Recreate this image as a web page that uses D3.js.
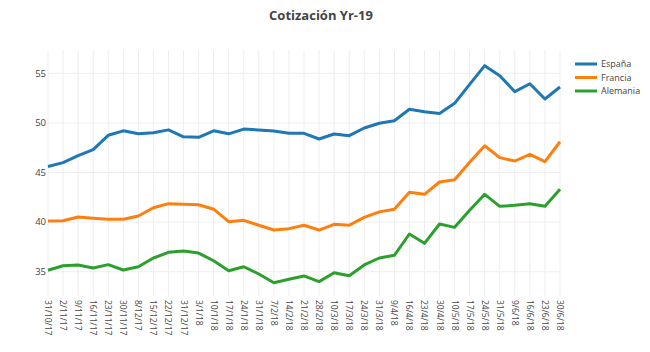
<!DOCTYPE html>
<html>
<head>
<meta charset="utf-8">
<script src="https://cdn.jsdelivr.net/npm/d3@7"></script>
<style>
  body { margin: 0; background: #fff; }
  text { font-family: "Open Sans", sans-serif; fill: #444; }
</style>
</head>
<body>
<div id="chart"></div>
<script>
const dates = ["31/10/17","2/11/17","9/11/17","16/11/17","23/11/17","30/11/17","8/12/17","15/12/17",
  "22/12/17","31/12/17","3/1/18","10/1/18","17/1/18","24/1/18","31/1/18","7/2/18","14/2/18",
  "21/2/18","28/2/18","10/3/18","17/3/18","24/3/18","31/3/18","9/4/18","16/4/18","23/4/18",
  "30/4/18","10/5/18","17/5/18","24/5/18","31/5/18","9/6/18","16/6/18","23/6/18","30/6/18"];

const espana = [45.6, 46.0, 46.7, 47.3, 48.75, 49.2, 48.9, 49.0, 49.3, 48.6, 48.55, 49.2, 48.9,
  49.38, 49.28, 49.18, 48.95, 48.95, 48.38, 48.88, 48.71, 49.49, 49.96, 50.22, 51.37, 51.13,
  50.96, 51.97, 53.89, 55.77, 54.76, 53.15, 53.95, 52.41, 53.62];
const francia = [40.11, 40.14, 40.51, 40.38, 40.28, 40.28, 40.61, 41.45, 41.86, 41.79, 41.75,
  41.3, 40.04, 40.18, 39.68, 39.2, 39.34, 39.68, 39.2, 39.78, 39.68, 40.48, 41.03, 41.29, 43.0,
  42.8, 44.04, 44.27, 46.03, 47.7, 46.5, 46.16, 46.83, 46.09, 48.1];
const alemania = [35.14, 35.6, 35.68, 35.37, 35.71, 35.17, 35.5, 36.38, 36.95, 37.09, 36.88,
  36.1, 35.1, 35.5, 34.77, 33.89, 34.23, 34.57, 34.0, 34.9, 34.6, 35.68, 36.38, 36.65, 38.8,
  37.86, 39.81, 39.47, 41.19, 42.8, 41.59, 41.69, 41.86, 41.59, 43.3];

const seriesNames = ["España", "Francia", "Alemania"];
const seriesColors = ["#1f77b4", "#ff7f0e", "#2ca02c"];
const yTicks = [35, 40, 45, 50, 55];

const width = 650, height = 352;
const plotLeft = 48, plotRight = 560, plotTop = 50, plotBottom = 296;

const svg = d3.select("#chart").append("svg")
  .attr("width", width)
  .attr("height", height);

const x = d3.scalePoint().domain(dates).range([plotLeft, plotRight]);
const y = d3.scaleLinear().domain([32.55, 57.35]).range([plotBottom, plotTop]);

// grid
svg.append("g").selectAll("line").data(dates).join("line")
  .attr("x1", d => x(d)).attr("x2", d => x(d))
  .attr("y1", plotTop).attr("y2", plotBottom)
  .attr("stroke", "#eee").attr("stroke-width", 1);

svg.append("g").selectAll("line").data(yTicks).join("line")
  .attr("x1", plotLeft).attr("x2", plotRight)
  .attr("y1", d => y(d)).attr("y2", d => y(d))
  .attr("stroke", "#eee").attr("stroke-width", 1);

// axis labels
svg.append("g").selectAll("text").data(yTicks).join("text")
  .attr("x", plotLeft - 2)
  .attr("y", d => y(d))
  .attr("dy", "0.35em")
  .attr("text-anchor", "end")
  .style("font-size", "9.5px")
  .text(d => d);

svg.append("g").selectAll("text").data(dates).join("text")
  .attr("transform", d => `translate(${x(d)},${plotBottom + 4}) rotate(90)`)
  .attr("dy", "0.35em")
  .attr("text-anchor", "start")
  .style("font-size", "8.5px")
  .text(d => d);

// lines
const line = d3.line().x((d, i) => x(dates[i])).y(d => y(d));
[espana, francia, alemania].forEach((s, i) => {
  svg.append("path")
    .datum(s)
    .attr("fill", "none")
    .attr("stroke", seriesColors[i])
    .attr("stroke-width", 3)
    .attr("stroke-linejoin", "round")
    .attr("d", line);
});

// legend
const legend = svg.append("g").attr("transform", "translate(575,64)");
seriesNames.forEach((name, i) => {
  const g = legend.append("g").attr("transform", `translate(0,${i * 13.5})`);
  g.append("line").attr("x1", 0).attr("x2", 22)
    .attr("stroke", seriesColors[i]).attr("stroke-width", 3);
  g.append("text").attr("x", 26).attr("dy", "0.35em")
    .style("font-size", "9px").text(name);
});

// title
svg.append("text")
  .attr("x", width / 2 - 4)
  .attr("y", 20)
  .attr("text-anchor", "middle")
  .style("font-size", "13px")
  .style("font-weight", "bold")
  .text("Cotización Yr-19");
</script>
</body>
</html>
